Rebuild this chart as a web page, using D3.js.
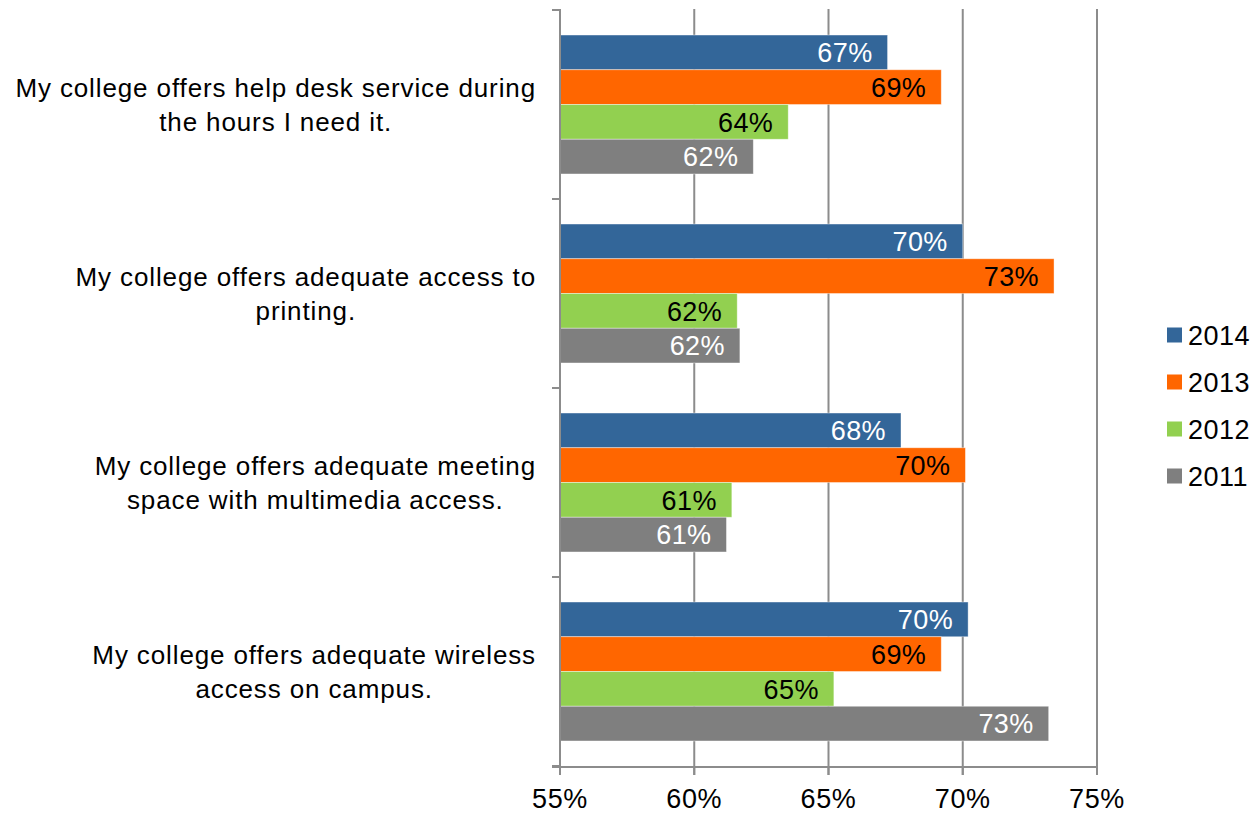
<!DOCTYPE html>
<html><head><meta charset="utf-8">
<script src="https://cdn.jsdelivr.net/npm/d3@7"></script>
<style>body{margin:0;background:#fff}svg{display:block}text{font-family:"Liberation Sans",Arial,sans-serif}</style>
</head><body><svg id="c" width="1254" height="814"></svg>
<script>
const categories = [
  ["My college offers help desk service during", "the hours I need it."],
  ["My college offers adequate access to", "printing."],
  ["My college offers adequate meeting", "space with multimedia access."],
  ["My college offers adequate wireless", "access on campus."]
];
const seriesNames = ["2014", "2013", "2012", "2011"];
const v2014 = [67.2, 70.0, 67.7, 70.2];
const v2013 = [69.2, 73.4, 70.1, 69.2];
const v2012 = [63.5, 61.6, 61.4, 65.2];
const v2011 = [62.2, 61.7, 61.2, 73.2];
const seriesValues = [v2014, v2013, v2012, v2011];
const colors = ["#336699", "#FF6600", "#92D050", "#7F7F7F"];
const labelColors = ["#ffffff", "#000000", "#000000", "#ffffff"];
const xTicks = [55, 60, 65, 70, 75];

const svg = d3.select("#c");
const x = d3.scaleLinear().domain([55, 75]).range([560, 1097]);
const y = d3.scaleBand().domain(d3.range(categories.length)).range([10, 766]);
const inner = d3.scaleBand().domain(d3.range(seriesNames.length))
  .range([0, y.bandwidth()]).paddingOuter(0.72).paddingInner(0);

const grid = "#8c8c8c";
svg.append("g").selectAll("line").data(xTicks.slice(1)).join("line")
  .attr("x1", d => x(d)).attr("x2", d => x(d)).attr("y1", 9).attr("y2", 775)
  .attr("stroke", grid).attr("stroke-width", 2);

seriesValues.forEach((vals, s) => {
  const g = svg.append("g");
  g.selectAll("rect").data(vals).join("rect")
    .attr("x", x(55)).attr("y", (d, i) => y(i) + inner(s))
    .attr("width", d => x(d) - x(55)).attr("height", inner.bandwidth())
    .attr("fill", colors[s]).attr("stroke", "#ffffff").attr("stroke-opacity", 0.5).attr("stroke-width", 0.8);
  g.selectAll("text").data(vals).join("text")
    .attr("x", d => x(d) - 15).attr("y", (d, i) => y(i) + inner(s) + inner.bandwidth() / 2)
    .attr("dy", "0.36em").attr("text-anchor", "end").attr("font-size", 27).attr("letter-spacing", 0.4)
    .attr("fill", labelColors[s]).text(d => Math.round(d) + "%");
});

svg.append("line").attr("x1", 560).attr("x2", 560).attr("y1", 9).attr("y2", 768)
  .attr("stroke", grid).attr("stroke-width", 2);
svg.append("g").selectAll("line").data(d3.range(categories.length + 1)).join("line")
  .attr("x1", 552).attr("x2", 560)
  .attr("y1", d => d < categories.length ? y(d) : 766).attr("y2", d => d < categories.length ? y(d) : 766)
  .attr("stroke", grid).attr("stroke-width", 2);
svg.append("line").attr("x1", 552).attr("x2", 1098).attr("y1", 767).attr("y2", 767)
  .attr("stroke", grid).attr("stroke-width", 2);
svg.append("g").selectAll("line").data(xTicks).join("line")
  .attr("x1", d => x(d)).attr("x2", d => x(d)).attr("y1", 767).attr("y2", 775)
  .attr("stroke", grid).attr("stroke-width", 2);
svg.append("g").selectAll("text").data(xTicks).join("text")
  .attr("x", d => x(d)).attr("y", 808).attr("text-anchor", "middle").attr("font-size", 27).attr("letter-spacing", 0.6)
  .attr("fill", "#000").text(d => d + "%");

categories.forEach((lines, i) => {
  const cy = y(i) + y.bandwidth() / 2;
  const t = svg.append("text").attr("text-anchor", "middle").attr("font-size", 26)
    .attr("letter-spacing", 0.88).attr("fill", "#000");
  const spans = lines.map((ln, k) =>
    t.append("tspan").attr("y", cy - 17 + k * 34).attr("dy", "0.36em").text(ln));
  const maxW = d3.max(spans, sp => sp.node().getComputedTextLength());
  spans.forEach(sp => sp.attr("x", 536 - maxW / 2));
});

const lg = svg.append("g");
seriesNames.forEach((n, s) => {
  const cy = 335 + s * 47;
  lg.append("rect").attr("x", 1167).attr("y", cy - 7.5).attr("width", 15).attr("height", 15).attr("fill", colors[s]);
  lg.append("text").attr("x", 1188).attr("y", cy).attr("dy", "0.36em").attr("font-size", 27)
    .attr("letter-spacing", 0.5).attr("fill", "#000").text(n);
});
</script></body></html>
